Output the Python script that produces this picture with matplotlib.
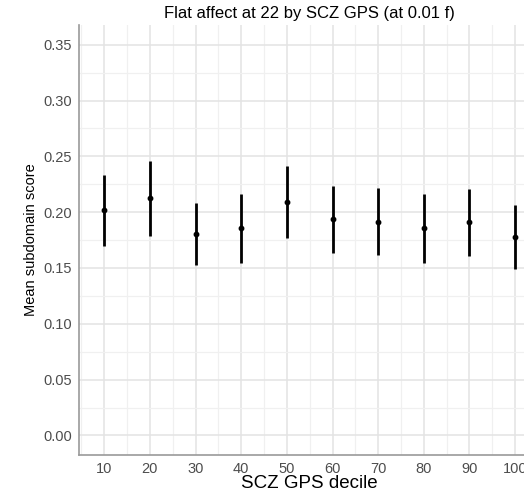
import numpy as np
import matplotlib.pyplot as plt
from matplotlib.ticker import MultipleLocator

plt.rcParams['font.family'] = ['Liberation Sans', 'DejaVu Sans']

# Данные
deciles = [10, 20, 30, 40, 50, 60, 70, 80, 90, 100]
means = [0.2018, 0.2127, 0.1808, 0.1855, 0.2092, 0.1938, 0.1914, 0.1855, 0.1908, 0.1781]
lower = [0.1701, 0.1790, 0.1530, 0.1544, 0.1769, 0.1633, 0.1612, 0.1544, 0.1607, 0.1494]
upper = [0.2334, 0.2462, 0.2083, 0.2160, 0.2414, 0.2237, 0.2216, 0.2166, 0.2210, 0.2065]

means = np.array(means)
err = [means - np.array(lower), np.array(upper) - means]

fig = plt.figure(figsize=(5.24, 4.94), dpi=100)
# правый край панели уходит за границу картинки, как в оригинале
ax = fig.add_axes([0.151, 0.079, 0.880, 0.870])

ax.errorbar(deciles, means, yerr=err, fmt='o', color='black', ms=3.2,
            elinewidth=2.0, capsize=0, zorder=3)

ax.set_xlim(4.5, 105.5)
ax.set_ylim(-0.0175, 0.3675)
ax.xaxis.set_major_locator(MultipleLocator(10))
ax.xaxis.set_minor_locator(MultipleLocator(5))
ax.yaxis.set_minor_locator(MultipleLocator(0.025))
ax.set_yticks(np.arange(0, 0.36, 0.05))
ax.set_yticklabels([f"{v:.2f}" for v in np.arange(0, 0.36, 0.05)])

ax.grid(True, which='major', color='#e3e3e3', linewidth=1.1, zorder=0)
ax.grid(True, which='minor', color='#f0f0f0', linewidth=0.9, zorder=0)
ax.set_axisbelow(True)

for s in ['top', 'right']:
    ax.spines[s].set_visible(False)
for s in ['left', 'bottom']:
    ax.spines[s].set_color('#9a9a9a')
    ax.spines[s].set_linewidth(1.2)

ax.tick_params(which='both', length=0, labelsize=10.5, labelcolor='#4d4d4d', pad=5)

ax.set_title("Flat affect at 22 by SCZ GPS (at 0.01 f)", fontsize=12, pad=5)
ax.set_xlabel("SCZ GPS decile", fontsize=13.5, labelpad=-1)
ax.set_ylabel("Mean subdomain score", fontsize=10.5, labelpad=4)

plt.savefig("out.png", dpi=100)
